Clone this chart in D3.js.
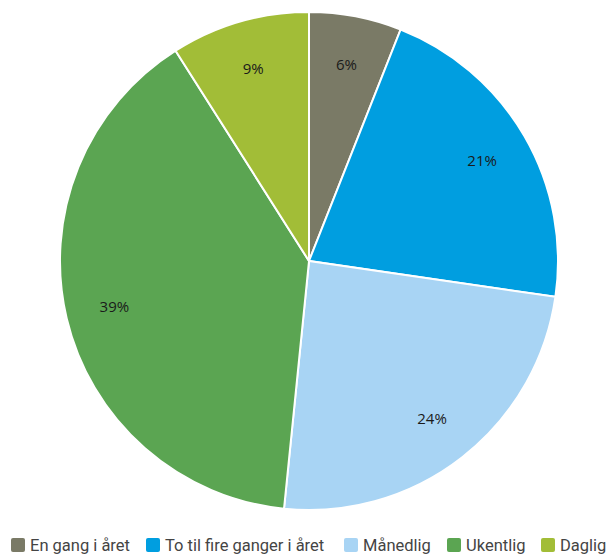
<!DOCTYPE html>
<html>
<head>
<meta charset="utf-8">
<script src="https://cdn.jsdelivr.net/npm/d3@7"></script>
<style>
  body { margin: 0; background: #fff; }
  svg { font-family: Roboto, "Noto Sans", sans-serif; }
</style>
</head>
<body>
<svg id="chart" width="609" height="555"></svg>
<script>
// dati
const categories = ['En gang i året', 'To til fire ganger i året', 'Månedlig', 'Ukentlig', 'Daglig']
const values = [6.0, 21.3, 24.3, 39.4, 9.0]
const colors = ['#7a7a66', '#009ee0', '#a8d4f4', '#5ba552', '#a2bd37']

const svg = d3.select('#chart')
const cx = 309, cy = 261, radius = 249

const data = categories.map((c, i) => ({ name: c, value: values[i], color: colors[i] }))

const pie = d3.pie().value(d => d.value).sort(null)
const arc = d3.arc().innerRadius(0).outerRadius(radius)
const labelArc = d3.arc().innerRadius(200).outerRadius(200)

const g = svg.append('g').attr('transform', `translate(${cx},${cy})`)

g.selectAll('path')
  .data(pie(data))
  .join('path')
  .attr('d', arc)
  .attr('fill', d => d.data.color)
  .attr('stroke', '#fff')
  .attr('stroke-width', 2)

g.selectAll('text')
  .data(pie(data))
  .join('text')
  .attr('transform', d => `translate(${labelArc.centroid(d)})`)
  .attr('text-anchor', 'middle')
  .attr('dy', '0.35em')
  .style('font-family', '"Open Sans", sans-serif')
  .style('font-size', '15px')
  .style('fill', '#1a1a1a')
  .text(d => Math.round(d.data.value) + '%')

// legenda
const legendX = [11, 146, 344, 447, 541]
const legend = svg.append('g').attr('transform', 'translate(0,545)')
const items = legend.selectAll('g')
  .data(data)
  .join('g')
  .attr('transform', (d, i) => `translate(${legendX[i]},0)`)

items.append('rect')
  .attr('x', 0).attr('y', -7)
  .attr('width', 14).attr('height', 14)
  .attr('rx', 2)
  .attr('fill', d => d.color)

items.append('text')
  .attr('x', 19)
  .attr('dy', '0.35em')
  .style('font-size', '16.5px')
  .style('fill', '#444')
  .text(d => d.name)
</script>
</body>
</html>
